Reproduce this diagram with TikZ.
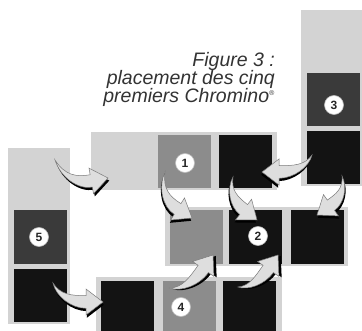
\documentclass[tikz,border=0pt]{standalone}
\usetikzlibrary{calc}
\usepackage{fontspec}
\setmainfont{Liberation Sans}
\definecolor{lightg}{HTML}{D3D3D3}
\definecolor{midg}{HTML}{8C8C8C}
\definecolor{drkg}{HTML}{3A3A3A}
\definecolor{blk}{HTML}{131313}
\definecolor{capc}{HTML}{333333}
\definecolor{arrfill}{HTML}{DEDEDE}
\definecolor{arredge}{HTML}{7A7A7A}
\newcommand\fatarrow[3]{%
  \path let \p1=(#1), \p2=(#2) in \pgfextra{%
    \pgfmathsetmacro\tA{(\x1-\x2)*cos(#3)+(\y1-\y2)*sin(#3)}%
    \pgfmathsetmacro\tB{-(\x1-\x2)*sin(#3)+(\y1-\y2)*cos(#3)}%
    \xdef\fA{\tA}\xdef\fB{\tB}};
  \pgfmathsetmacro\fM{\fB<0 ? -1 : 1}%
  \pgfmathsetmacro\fB{abs(\fB)}%
  \pgfmathsetmacro\fD{-17-\fA}%
  \begin{scope}[shift={(#2)}, rotate=#3, yscale=\fM]
    \fill[black, shift={(0.8,-2.8)}] \arrowpath;
    \fill[arrfill, draw=arredge, line width=0.5pt] \arrowpath;
  \end{scope}}
\def\arrowpath{(\fA,\fB) .. controls ({\fA+0.15*\fD-2.3},{0.35*\fB-0.8}) and ({\fA+0.55*\fD},-6.3) .. (-17,-6.3) -- (-17,-13) -- (0,0) -- (-17,13) -- (-17,6.3) .. controls ({\fA+0.55*\fD},6.3) and ({\fA+0.15*\fD+2.3},{0.35*\fB+0.8}) .. (\fA,\fB) -- cycle}
\begin{document}
\begin{tikzpicture}[x=1pt,y=1pt,
  frame/.style={fill=lightg, draw=none, inner sep=0},
  sq/.style={minimum size=53pt, inner sep=0, draw=none},
  blksq/.style={sq, fill=blk},
  midsq/.style={sq, fill=midg},
  drksq/.style={sq, fill=drkg},
  num/.style={circle, fill=white, draw=gray!50, line width=0.6pt, minimum size=19pt, inner sep=0,
    font=\bfseries\fontsize{12}{12}\selectfont, text=black!85},
  captxt/.style={font=\itshape\fontsize{19.5}{19.5}\selectfont, text=capc, anchor=base east, inner sep=0}]
\useasboundingbox (0,0) rectangle (362,330);
\clip (0,0) rectangle (362,330);
\fill[white] (0,0) rectangle (362,330);

% caption
\node[captxt] (t1) at (275,263) {Figure 3 :};
\node[captxt] (t2) at (275,245) {placement des cinq};
\node[captxt] (t3) at (275,227) {premiers Chromino\textsuperscript{\fontsize{7}{7}\selectfont ®}};

% domino 3 (vertical, right)
\node[frame, minimum width=66pt, minimum height=176pt] (d3) at (334,232) {};
\node[drksq] (d3a) at (333.5,230) {};
\node[blksq] (d3b) at (333.5,172) {};
% domino 1
\node[frame, minimum width=186pt, minimum height=58pt] (d1) at (184,169) {};
\node[midsq] (d1a) at (184,168.5) {};
\node[blksq] (d1b) at (245,168.5) {};
% domino 2
\node[frame, minimum width=183pt, minimum height=59pt] (d2) at (256.5,93.5) {};
\node[midsq] (d2a) at (196,93) {};
\node[blksq] (d2b) at (255.5,93) {};
\node[blksq] (d2c) at (317.5,93) {};
% domino 4
\node[frame, minimum width=186pt, minimum height=59pt] (d4) at (189,23.5) {};
\node[blksq] (d4a) at (127.5,23) {};
\node[midsq] (d4b) at (189,23) {};
\node[blksq] (d4c) at (249.5,23) {};
% domino 5
\node[frame, minimum width=62pt, minimum height=176pt] (d5) at (39,94) {};
\node[drksq] (d5a) at (40,93) {};
\node[blksq] (d5b) at (40,35) {};

% arrows
\coordinate (a1s) at (55,170);  \coordinate (a1e) at (108,152);
\coordinate (a2s) at (165,158); \coordinate (a2e) at (192,112);
\coordinate (a3s) at (233,153); \coordinate (a3e) at (257,110);
\coordinate (a4s) at (312,175); \coordinate (a4e) at (262,158);
\coordinate (a5s) at (342,154); \coordinate (a5e) at (317,115);
\coordinate (a6s) at (53,47);   \coordinate (a6e) at (103,28);
\coordinate (a7s) at (170,42);  \coordinate (a7e) at (213,75);
\coordinate (a8s) at (238,43);  \coordinate (a8e) at (278,75);
\fatarrow{a1s}{a1e}{10}
\fatarrow{a2s}{a2e}{-32}
\fatarrow{a3s}{a3e}{-38}
\fatarrow{a4s}{a4e}{180}
\fatarrow{a5s}{a5e}{-145}
\fatarrow{a6s}{a6e}{0}
\fatarrow{a7s}{a7e}{55}
\fatarrow{a8s}{a8e}{55}

% numbers
\node[num] (n1) at (185,167) {1};
\node[num] (n2) at (258,94) {2};
\node[num] (n3) at (334,225) {3};
\node[num] (n4) at (181,23) {4};
\node[num] (n5) at (39,93) {5};
\end{tikzpicture}
\end{document}
